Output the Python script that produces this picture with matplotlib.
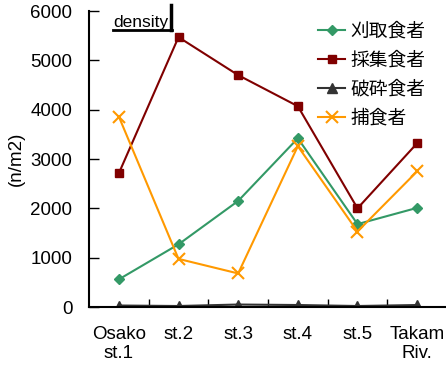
import matplotlib.pyplot as plt
import matplotlib.lines as mlines

plt.rcParams['font.family'] = ['Liberation Sans', 'Noto Sans CJK JP', 'DejaVu Sans']

sites = ["Osako\nst.1", "st.2", "st.3", "st.4", "st.5", "Takam\nRiv."]
grazers = [560, 1270, 2150, 3420, 1680, 2010]       # 刈取食者
collectors = [2710, 5470, 4700, 4070, 2000, 3320]   # 採集食者
shredders = [30, 20, 50, 40, 20, 40]                # 破砕食者
predators = [3860, 975, 680, 3260, 1530, 2750]      # 捕食者

series = [
    ("刈取食者", grazers, "#339966", "D", 5),
    ("採集食者", collectors, "#800000", "s", 6),
    ("破砕食者", shredders, "#333333", "^", 7.5),
    ("捕食者", predators, "#FF9900", "x", 9),
]

fig = plt.figure(figsize=(4.46, 3.71), dpi=100)
ax = fig.add_axes([89 / 446, 64 / 371, 358 / 446, 296 / 371])

xs = list(range(len(sites)))
for name, vals, color, marker, ms in series:
    ax.plot(xs, vals, color=color, marker=marker, markersize=ms, lw=1.5,
            markeredgewidth=1.5 if marker == "x" else 1, label=name)

ax.set_xlim(-0.5, 5.5)
ax.set_ylim(0, 6000)
ax.set_yticks(range(0, 6001, 1000))
ax.set_xticks([x + 0.5 for x in xs[:-1]])
ax.set_xticklabels([])
ax.set_xticks(xs, minor=True)
ax.set_xticklabels(sites, minor=True, fontsize=13.5, linespacing=1.15)
ax.tick_params(axis="x", which="minor", length=0, pad=14)
ax.tick_params(axis="x", which="major", direction="in", length=6, width=1)
ax.tick_params(axis="y", direction="in", length=7, width=1, labelsize=13.5, pad=12)
for side in ("top", "right"):
    ax.spines[side].set_visible(False)
for side in ("left", "bottom"):
    ax.spines[side].set_linewidth(1.5)

ax.set_ylabel("(n/m2)", fontsize=13.5, labelpad=4)

# label with an underline and a bar on its right
ax.text(0.068, 0.962, "density", transform=ax.transAxes, fontsize=12.5,
        va="center", ha="left")
ax.add_line(mlines.Line2D([0.067, 0.232], [0.935, 0.935], transform=ax.transAxes,
                          color="black", lw=2, clip_on=False))
ax.add_line(mlines.Line2D([0.23, 0.23], [0.935, 1.02], transform=ax.transAxes,
                          color="black", lw=2.5, clip_on=False))

ax.legend(loc="upper left", bbox_to_anchor=(318 / 446, 1 - 21 / 371),
          bbox_transform=fig.transFigure, frameon=False,
          prop={"family": ["Noto Sans CJK JP"], "size": 13.5},
          handlelength=1.45, handletextpad=0.3, labelspacing=0.42,
          borderaxespad=0, borderpad=0)

fig.savefig("out.png", dpi=100)
